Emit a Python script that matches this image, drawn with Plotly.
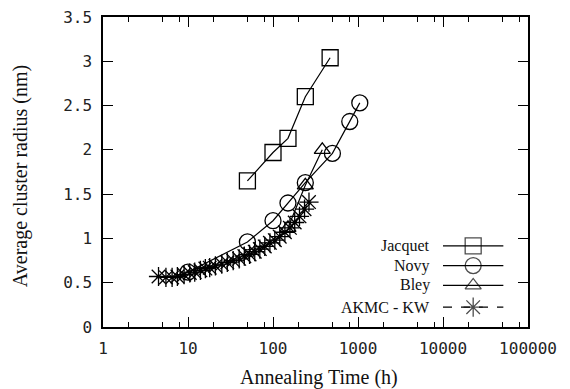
import plotly.graph_objects as go

# Annealing time (h) and mean cluster radius (nm) for each data set
jacquet_t = [50, 100, 150, 240, 470]
jacquet_r = [1.65, 1.97, 2.13, 2.6, 3.04]

novy_t = [10, 50, 100, 150, 240, 500, 800, 1050]
novy_r = [0.62, 0.96, 1.2, 1.4, 1.63, 1.96, 2.32, 2.53]

bley_t = [150, 240, 380]
bley_r = [1.12, 1.6, 2.0]

akmc_t = [4.5, 5.5, 6.5, 7.5, 9, 10.5, 12, 14, 16, 18, 21, 25, 29, 34, 40, 46,
          53, 61, 70, 80, 92, 105, 120, 138, 158, 180, 205, 235, 265]
akmc_r = [0.57, 0.56, 0.56, 0.57, 0.59, 0.61, 0.62, 0.64, 0.66, 0.67, 0.69, 0.71,
          0.73, 0.75, 0.77, 0.80, 0.82, 0.85, 0.88, 0.91, 0.95, 0.98, 1.02, 1.07,
          1.12, 1.18, 1.25, 1.33, 1.41]

series_names = ["Jacquet", "Novy", "Bley", "AKMC - KW"]

x_major = [1, 10, 100, 1000, 10000, 100000]
x_major_text = ["1", "10", "100", "1000", "10000", "100000"]
x_minor = [m * d for d in [1, 10, 100, 1000, 10000] for m in (2, 5, 8)]
y_ticks = [0, 0.5, 1, 1.5, 2, 2.5, 3, 3.5]
y_tick_text = ["0", "0.5", "1", "1.5", "2", "2.5", "3", "3.5"]

x_title = "Annealing Time (h)"
y_title = "Average cluster radius (nm)"

INK = "black"
TICK_FONT = dict(family="DejaVu Sans Mono", size=16, color="#222")
SERIF = "Liberation Serif"

styles = [
    dict(symbol="square-open", size=16, dash="solid"),
    dict(symbol="circle-open", size=16, dash="solid"),
    dict(symbol="triangle-up-open", size=14, dash="solid"),
    dict(symbol="asterisk-open", size=16, dash="dash"),
]
data = [(jacquet_t, jacquet_r), (novy_t, novy_r), (bley_t, bley_r), (akmc_t, akmc_r)]

fig = go.Figure()
for (t, r), st, name in zip(data, styles, series_names):
    fig.add_trace(go.Scatter(
        x=t, y=r, mode="lines+markers", name=name, showlegend=False,
        line=dict(color=INK, width=1.2, dash=st["dash"]),
        marker=dict(symbol=st["symbol"], size=st["size"], color=INK,
                    line=dict(color=INK, width=1.3)),
    ))

# Key in the lower right corner: label, sample line, symbol
key_rows = [0.262, 0.198, 0.134, 0.064]
key_x = [0.80, 0.871, 0.942]
for st, name, ky in zip(styles, series_names, key_rows):
    fig.add_trace(go.Scatter(
        x=key_x, y=[ky] * 3, xaxis="x2", yaxis="y2", mode="lines+markers",
        showlegend=False, hoverinfo="skip",
        line=dict(color=INK, width=1.2, dash="dash" if st["dash"] == "dash" else "solid"),
        marker=dict(symbol=st["symbol"], size=[0, st["size"], 0], color=INK,
                    line=dict(color=INK, width=1.3)),
    ))
    fig.add_annotation(
        x=0.774, y=ky, xref="x2", yref="y2", text=name, showarrow=False,
        xanchor="right", yanchor="middle",
        font=dict(family=SERIF, size=16, color="#111"),
    )

# Axis titles placed as paper annotations so the frame stays fixed
fig.add_annotation(x=0.508, y=-0.162, xref="paper", yref="paper", text=x_title,
                   showarrow=False, xanchor="center", yanchor="middle",
                   font=dict(family=SERIF, size=20, color="#111"))
fig.add_annotation(x=-0.195, y=0.487, xref="paper", yref="paper", text=y_title,
                   showarrow=False, xanchor="center", yanchor="middle", textangle=-90,
                   font=dict(family=SERIF, size=20, color="#111"))

fig.update_layout(
    width=570, height=389,
    margin=dict(l=103, r=42, t=17, b=62),
    paper_bgcolor="white", plot_bgcolor="white",
    xaxis=dict(
        type="log", range=[0, 5], automargin=False,
        tickmode="array", tickvals=x_major, ticktext=x_major_text,
        ticks="inside", ticklen=10, tickwidth=1.2, tickcolor=INK,
        minor=dict(tickmode="array", tickvals=x_minor, ticks="inside",
                   ticklen=5, tickwidth=1.2, tickcolor=INK, showgrid=False),
        showline=True, linecolor=INK, linewidth=1.5, mirror="ticks",
        showgrid=False, zeroline=False, tickfont=TICK_FONT,
        ticklabelstandoff=6,
    ),
    yaxis=dict(
        range=[0, 3.5], automargin=False,
        tickmode="array", tickvals=y_ticks, ticktext=y_tick_text,
        ticks="inside", ticklen=10, tickwidth=1.2, tickcolor=INK,
        showline=True, linecolor=INK, linewidth=1.5, mirror="ticks",
        showgrid=False, zeroline=False, tickfont=TICK_FONT,
        ticklabelstandoff=6,
    ),
    # top edge carries the same minor ticks as the bottom edge
    xaxis3=dict(
        type="log", range=[0, 5], overlaying="x", side="top", anchor="y",
        automargin=False,
        tickmode="array", tickvals=x_major, ticktext=[""] * len(x_major),
        ticks="inside", ticklen=10, tickwidth=1.2, tickcolor=INK,
        minor=dict(tickmode="array", tickvals=x_minor, ticks="inside",
                   ticklen=5, tickwidth=1.2, tickcolor=INK, showgrid=False),
        showline=False, showgrid=False, zeroline=False, fixedrange=True,
    ),
    xaxis2=dict(overlaying="x", range=[0, 1], visible=False, fixedrange=True),
    yaxis2=dict(overlaying="y", range=[0, 1], visible=False, fixedrange=True),
)

# an invisible trace keeps the top axis drawn
fig.add_trace(go.Scatter(x=[1], y=[0], xaxis="x3", yaxis="y", mode="markers",
                         marker=dict(opacity=0), showlegend=False, hoverinfo="skip"))

fig.write_html("out.html")
